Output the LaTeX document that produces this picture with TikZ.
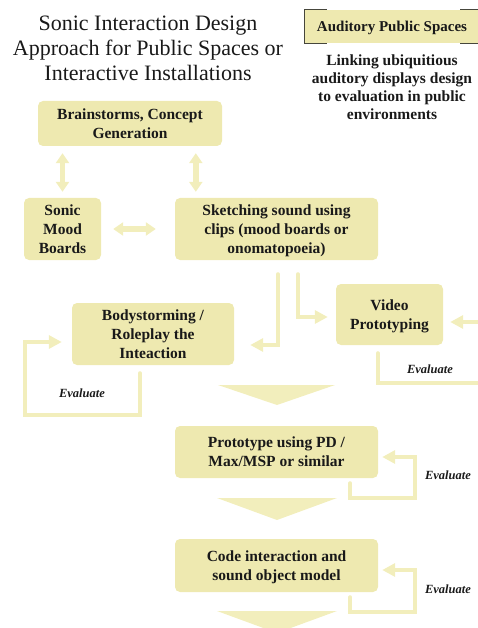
\documentclass[tikz,border=0pt]{standalone}
\usepackage{fontspec}
\setmainfont{Liberation Serif}
\usepackage{xcolor}
\usepackage{tikz}
\usetikzlibrary{arrows.meta, positioning}
\definecolor{boxfill}{RGB}{238,233,176}
\definecolor{linefill}{RGB}{242,238,188}
\definecolor{ink}{RGB}{25,25,25}
\definecolor{framegray}{RGB}{70,70,60}
\tikzstyle{stage} = [
    rounded corners=5pt,
    fill=boxfill,
    text=ink,
    align=center,
    inner sep=0pt,
    text depth=0pt,
    font=\rmfamily\bfseries\fontsize{15.5}{19}\selectfont
]
\tikzstyle{flow} = [
    line width=4pt,
    draw=linefill,
    line cap=round,
    -{Triangle[width=13pt,length=13pt]}
]
\tikzstyle{loop} = [
    line width=4pt,
    draw=linefill,
    line cap=round
]
\tikzstyle{link} = [
    line width=5.5pt,
    draw=linefill,
    {Triangle[width=13pt,length=10pt]}-{Triangle[width=13pt,length=10pt]}
]
\tikzstyle{evaltext} = [
    text=ink,
    font=\rmfamily\bfseries\itshape\fontsize{12.5}{14}\selectfont
]

\begin{document}
\begin{tikzpicture}[x=1pt,y=-1pt]
\useasboundingbox (0,0) rectangle (477,628);

\node[text=ink, align=center, inner sep=0pt, font=\rmfamily\fontsize{22}{25}\selectfont]
    (title) at (148,48) {Sonic Interaction Design\\Approach for Public Spaces or\\Interactive Installations};

\node[fill=boxfill, text=ink, inner sep=0pt, minimum width=174, minimum height=33, text depth=0pt,
    font=\rmfamily\bfseries\fontsize{15}{18}\selectfont] (aps) at (392,26.5) {Auditory Public Spaces};
\draw[framegray, line width=1pt] ([xshift=22pt]aps.north west) -- (aps.north west)
    -- (aps.south west) -- ([xshift=22pt]aps.south west);
\draw[framegray, line width=1pt] ([xshift=-19pt]aps.north east) -- (aps.north east);
\draw[framegray, line width=1pt] ([xshift=-19pt]aps.south east) -- (aps.south east);

\node[text=ink, align=center, inner sep=0pt, font=\rmfamily\bfseries\fontsize{15.5}{18}\selectfont]
    (linking) at (392,87) {Linking ubiquitious\\auditory displays design\\to evaluation in public\\environments};

\node[stage, minimum width=184, minimum height=45] (brain) at (130,123.5) {Brainstorms, Concept\\Generation};
\node[stage, minimum width=77, minimum height=62] (mood) at (62.5,229) {Sonic\\Mood\\Boards};
\node[stage, minimum width=203, minimum height=62] (sketch) at (276.5,229) {Sketching sound using\\clips (mood boards or\\onomatopoeia)};
\node[stage, minimum width=162, minimum height=62] (body) at (153,334) {Bodystorming /\\Roleplay the\\Inteaction};
\node[stage, minimum width=107, minimum height=61] (video) at (389.5,314.5) {Video\\Prototyping};
\node[stage, minimum width=203, minimum height=52] (proto) at (276.5,452) {Prototype using PD /\\Max/MSP or similar};
\node[stage, minimum width=203, minimum height=53] (code) at (276.5,565.5) {Code interaction and\\sound object model};

\draw[link, shorten <=7pt, shorten >=6pt] (brain.south -| mood.north) -- (mood.north);
\draw[link, shorten <=6pt, shorten >=7pt] ([xshift=21pt]sketch.north west) -- ([xshift=21pt]sketch.north west |- brain.south);
\draw[link, shorten <=12pt, shorten >=19pt] (mood.east) -- (sketch.east -| sketch.west);

\draw[flow] ([xshift=1.5pt,yshift=-14pt]sketch.south) |- ([xshift=16pt,yshift=-11pt]body.east);
\draw[flow] ([xshift=21.5pt,yshift=-14pt]sketch.south) |- ([xshift=-8pt,yshift=-2.5pt]video.west);

\coordinate (vin) at (480,322);
\draw[flow] (vin) -- ([xshift=7pt]video.east |- vin);

\coordinate (vout) at (480,383);
\draw[loop] ([xshift=42pt,yshift=-8pt]video.south west) |- (vout);
\node[evaltext] (ev1) at (430,369) {Evaluate};

\coordinate (bl) at (25,415);
\draw[flow] ([xshift=-13pt,yshift=-8pt]body.south) |- (bl) |- ([xshift=-10pt,yshift=-8pt]body.west);
\node[evaltext] (ev2) at (82,393) {Evaluate};

\fill[linefill] (218,385) -- (335,385) -- (277,405) -- cycle;

\coordinate (pl) at (415,498);
\draw[flow] ([xshift=-28pt,yshift=-5pt]proto.south east) |- (pl) |- ([xshift=4pt,yshift=-5pt]proto.east);
\node[evaltext] (ev3) at (448,475) {Evaluate};

\fill[linefill] (217,498) -- (337,498) -- (277,520) -- cycle;

\coordinate (cl) at (415,612);
\draw[flow] ([xshift=-28pt,yshift=-5pt]code.south east) |- (cl) |- ([xshift=4pt,yshift=-4.5pt]code.east);
\node[evaltext] (ev4) at (448,589) {Evaluate};

\fill[linefill] (217,611) -- (337,611) -- (277,633) -- cycle;

\end{tikzpicture}
\end{document}
